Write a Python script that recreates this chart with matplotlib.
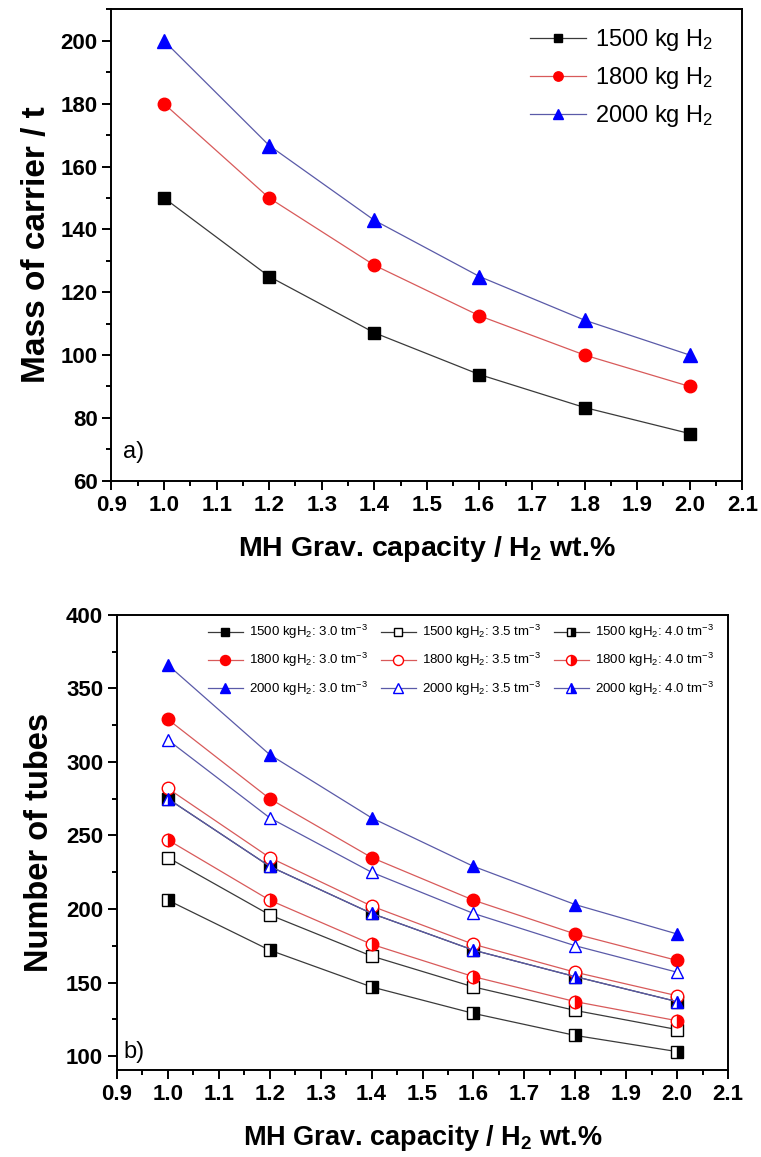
import matplotlib
matplotlib.use('Agg')
import matplotlib.pyplot as plt
from matplotlib.ticker import MultipleLocator

plt.rcParams['font.family'] = ['Liberation Sans', 'DejaVu Sans']
plt.rcParams['font.weight'] = 'bold'
plt.rcParams['axes.labelweight'] = 'bold'
plt.rcParams['xtick.labelsize'] = 16
plt.rcParams['ytick.labelsize'] = 16
plt.rcParams['mathtext.fontset'] = 'custom'
plt.rcParams['mathtext.rm'] = 'Liberation Sans'
plt.rcParams['mathtext.bf'] = 'Liberation Sans:bold'
plt.rcParams['mathtext.it'] = 'Liberation Sans:italic'
plt.rcParams['mathtext.default'] = 'regular'

# MH gravimetric capacity (wt.%)
capacity = [1.0, 1.2, 1.4, 1.6, 1.8, 2.0]

# a) mass of carrier (t)
carrier_1500 = [150, 125, 107.1, 93.8, 83.3, 75]
carrier_1800 = [180, 150, 128.6, 112.5, 100, 90]
carrier_2000 = [200, 166.7, 142.9, 125, 111.1, 100]

# b) number of tubes for 3.0 / 3.5 / 4.0 t m^-3
tubes_1500_30 = [275, 229, 197, 172, 154, 137]
tubes_1500_35 = [235, 196, 168, 147, 131, 118]
tubes_1500_40 = [206, 172, 147, 129, 114, 103]
tubes_1800_30 = [329, 275, 235, 206, 183, 165]
tubes_1800_35 = [282, 235, 202, 176, 157, 141]
tubes_1800_40 = [247, 206, 176, 154, 137, 124]
tubes_2000_30 = [366, 305, 262, 229, 203, 183]
tubes_2000_35 = [315, 262, 225, 197, 175, 157]
tubes_2000_40 = [275, 229, 197, 172, 154, 137]

black, red, blue = '#000000', '#ff0000', '#0000ff'
lblack, lred, lblue = '#3a3a3a', '#d85a5a', '#5a5aa8'

fig = plt.figure(figsize=(7.61, 11.57), dpi=100)
ax1 = fig.add_axes([0.1465, 0.5845, 0.829, 0.4073])
ax2 = fig.add_axes([0.1537, 0.0752, 0.803, 0.3933])


def style_axes(ax):
    ax.xaxis.set_major_locator(MultipleLocator(0.1))
    ax.xaxis.set_minor_locator(MultipleLocator(0.05))
    ax.set_xlim(0.9, 2.1)
    for s in ax.spines.values():
        s.set_linewidth(1.4)
    ax.tick_params(which='both', direction='out', width=1.4, top=False, right=False)
    ax.tick_params(which='major', length=6.5, pad=3.5)
    ax.tick_params(which='minor', length=3.5)


# panel a
ax1.plot(capacity, carrier_1500, '-s', color=lblack, mfc=black, mec=black, ms=8.5, lw=0.9,
         label='1500 kg H$_2$')
ax1.plot(capacity, carrier_1800, '-o', color=lred, mfc=red, mec=red, ms=9, lw=0.9,
         label='1800 kg H$_2$')
ax1.plot(capacity, carrier_2000, '-^', color=lblue, mfc=blue, mec=blue, ms=9.5, lw=0.9,
         label='2000 kg H$_2$')
ax1.set_ylim(60, 210)
ax1.yaxis.set_major_locator(MultipleLocator(20))
ax1.yaxis.set_minor_locator(MultipleLocator(10))
style_axes(ax1)
ax1.set_ylabel('Mass of carrier / t', fontsize=24, labelpad=6)
ax1.set_xlabel(r'MH Grav. capacity / $\mathbf{H_2}$ wt.%', fontsize=20.5, labelpad=13)
ax1.text(0.018, 0.06, 'a)', transform=ax1.transAxes, fontsize=17, fontweight='normal',
         va='center')
ax1.legend(loc='upper left', bbox_to_anchor=(0.663, 0.962), frameon=False,
           prop={'size': 17, 'weight': 'normal'}, handlelength=2.37, handletextpad=0.4,
           labelspacing=0.5, borderpad=0, borderaxespad=0, markerscale=0.75)

# panel b
series = [
    (tubes_1500_30, 's', black, lblack, 'full', '1500 kgH$_2$: 3.0 tm$^{-3}$'),
    (tubes_1800_30, 'o', red, lred, 'full', '1800 kgH$_2$: 3.0 tm$^{-3}$'),
    (tubes_2000_30, '^', blue, lblue, 'full', '2000 kgH$_2$: 3.0 tm$^{-3}$'),
    (tubes_1500_35, 's', black, lblack, 'none', '1500 kgH$_2$: 3.5 tm$^{-3}$'),
    (tubes_1800_35, 'o', red, lred, 'none', '1800 kgH$_2$: 3.5 tm$^{-3}$'),
    (tubes_2000_35, '^', blue, lblue, 'none', '2000 kgH$_2$: 3.5 tm$^{-3}$'),
    (tubes_1500_40, 's', black, lblack, 'right', '1500 kgH$_2$: 4.0 tm$^{-3}$'),
    (tubes_1800_40, 'o', red, lred, 'right', '1800 kgH$_2$: 4.0 tm$^{-3}$'),
    (tubes_2000_40, '^', blue, lblue, 'right', '2000 kgH$_2$: 4.0 tm$^{-3}$'),
]
for vals, m, c, lc, fill, lab in series:
    ms = {'s': 8, 'o': 9, '^': 9}[m]
    if fill == 'full':
        ax2.plot(capacity, vals, '-' + m, color=lc, mfc=c, mec=c, ms=ms, lw=0.9, label=lab)
    elif fill == 'none':
        ax2.plot(capacity, vals, '-' + m, color=lc, mfc='white', mec=c, mew=1.0, ms=ms,
                 lw=0.9, label=lab)
    else:
        ax2.plot(capacity, vals, '-' + m, color=lc, mfc=c, mfcalt='white', mec=c,
                 fillstyle='right', mew=1.0, ms=ms, lw=0.9, label=lab)

ax2.set_ylim(90.5, 400)
ax2.yaxis.set_major_locator(MultipleLocator(50))
ax2.yaxis.set_minor_locator(MultipleLocator(25))
style_axes(ax2)
ax2.set_ylabel('Number of tubes', fontsize=23.5, labelpad=8)
ax2.set_xlabel(r'MH Grav. capacity / $\mathbf{H_2}$ wt.%', fontsize=19.5, labelpad=13)
ax2.text(0.011, 0.04, 'b)', transform=ax2.transAxes, fontsize=17, fontweight='normal',
         va='center')
ax2.legend(loc='upper left', bbox_to_anchor=(0.149, 0.982), frameon=False, ncol=3,
           prop={'size': 9.5, 'weight': 'normal'}, handlelength=2.65, handletextpad=0.45,
           columnspacing=1.0, labelspacing=0.75, borderpad=0, borderaxespad=0,
           markerscale=0.8)

fig.savefig('out.png', dpi=100)
